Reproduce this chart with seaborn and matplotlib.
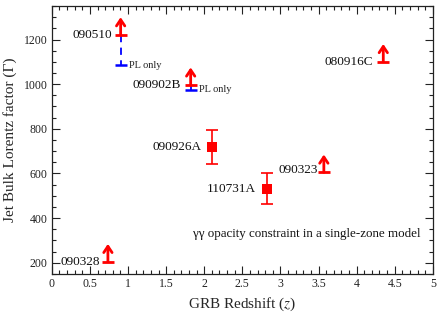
import matplotlib
matplotlib.use("Agg")
import matplotlib.pyplot as plt
import seaborn as sns
import pandas as pd
import numpy as np
from matplotlib.ticker import MultipleLocator

# ---- data ----
lim_names = ["090510", "090902B", "080916C", "090323", "090328"]
lim_z = [0.903, 1.822, 4.35, 3.57, 0.736]
lim_gamma = [1220, 995, 1100, 605, 205]
lim_label_dx = [-9, -10, -10, -6, -8]
lim_label_dy = [0, 0, 0, 2, 0]

pl_names = ["090510", "090902B"]
pl_z = [0.903, 1.822]
pl_gamma = [1085, 975]
pl_from = [1220, 995]

meas_names = ["090926A", "110731A"]
meas_z = [2.1062, 2.83]
meas_gamma = [720, 532]
meas_err = [76, 68]
meas_label_dx = [-11, -12]

arrow_len = 80

sns.set_style("ticks")
plt.rcParams["font.family"] = ["Liberation Serif", "DejaVu Serif"]
plt.rcParams["mathtext.fontset"] = "stix"

fig = plt.figure(figsize=(4.43, 3.16), dpi=100)
ax = fig.add_axes([0.117, 0.133, 0.86, 0.848])

red = "#ff0000"
blue = "#0000ff"

# measured points
meas_df = pd.DataFrame({"z": meas_z, "gamma": meas_gamma, "name": meas_names})
ax.errorbar(meas_z, meas_gamma, yerr=meas_err, fmt="none", ecolor=red,
            elinewidth=1.2, capsize=4, capthick=1.2, zorder=3)
sns.scatterplot(data=meas_df, x="z", y="gamma", marker="s", s=55,
                color=red, edgecolor=red, linewidth=0, ax=ax, zorder=4)

# PL-only blue limits (dashed connectors + caps)
for zz, g, g0 in zip(pl_z, pl_gamma, pl_from):
    ax.plot([zz, zz], [g0, g], ls=(0, (4, 3)), color=blue, lw=1.3, zorder=2)
ax.plot(pl_z, pl_gamma, ls="none", marker="_", ms=8, mew=1.8, color=blue, zorder=3)
for zz, g in zip(pl_z, pl_gamma):
    ax.annotate("PL only", (zz, g), xytext=(8, 0), textcoords="offset pixels",
                ha="left", va="center", fontsize=7.5, color="#222222")

# lower limits (red arrows)
lim_df = pd.DataFrame({"z": lim_z, "gamma": lim_gamma})
ax.plot(lim_df["z"], lim_df["gamma"], ls="none", marker="_", ms=9, mew=2,
        color=red, zorder=4)
for zz, g in zip(lim_z, lim_gamma):
    ax.annotate("", xy=(zz, g + arrow_len), xytext=(zz, g),
                arrowprops=dict(arrowstyle="->,head_length=0.45,head_width=0.3",
                                color=red, lw=2, shrinkA=0, shrinkB=0),
                zorder=4)

# labels
for n, zz, g, dx, dy in zip(lim_names, lim_z, lim_gamma, lim_label_dx, lim_label_dy):
    ax.annotate(n, (zz, g), xytext=(dx, dy), textcoords="offset pixels",
                ha="right", va="center", fontsize=9.5, color="#111111")
for n, zz, g, dx in zip(meas_names, meas_z, meas_gamma, meas_label_dx):
    ax.annotate(n, (zz, g), xytext=(dx, 0), textcoords="offset pixels",
                ha="right", va="center", fontsize=9.5, color="#111111")

ax.text(0.967, 0.148, "γγ opacity constraint in a single-zone model",
        transform=ax.transAxes, ha="right", va="center", fontsize=9.4,
        color="#111111")

ax.set_xlim(0, 5)
ax.set_ylim(150, 1350)
ax.xaxis.set_major_locator(MultipleLocator(0.5))
ax.xaxis.set_minor_locator(MultipleLocator(0.1))
ax.yaxis.set_major_locator(MultipleLocator(200))
ax.yaxis.set_minor_locator(MultipleLocator(50))
ax.set_xticks(np.arange(0, 5.01, 0.5))
ax.set_xticklabels(["0", "0.5", "1", "1.5", "2", "2.5", "3", "3.5", "4", "4.5", "5"])
ax.tick_params(which="both", direction="in", top=True, right=True,
               labelsize=8.5, colors="#222222", width=0.8)
ax.tick_params(which="major", length=6, pad=3)
ax.tick_params(which="minor", length=3)
for s in ax.spines.values():
    s.set_linewidth(0.9)
    s.set_color("#222222")

ax.set_xlabel("GRB Redshift ($z$)", fontsize=11, labelpad=4)
ax.set_ylabel("Jet Bulk Lorentz factor (Γ)", fontsize=11, labelpad=5)

fig.savefig("out.png", dpi=100)
